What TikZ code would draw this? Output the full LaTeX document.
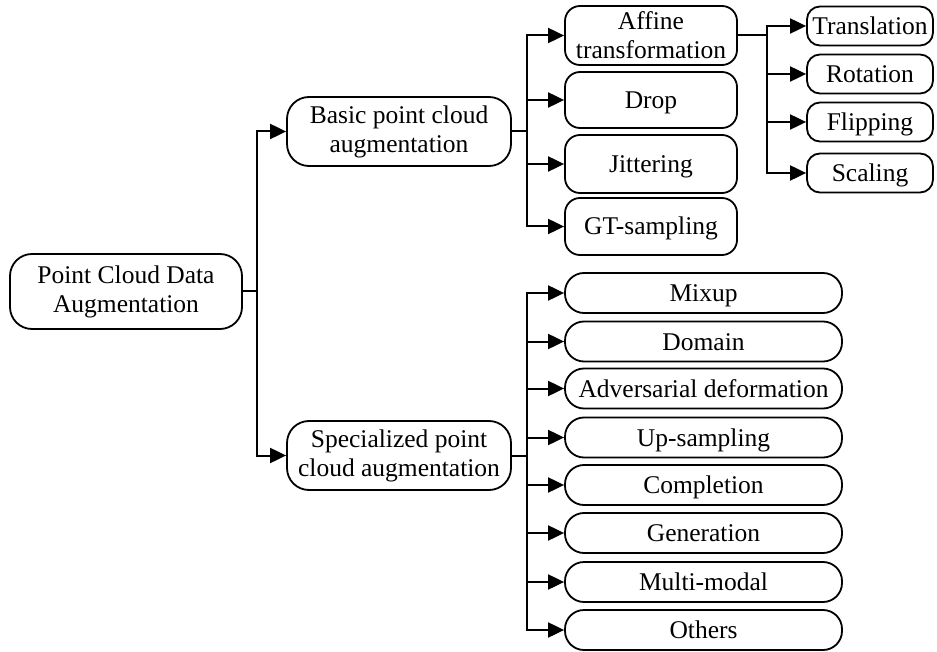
\documentclass[tikz,border=0pt]{standalone}
\usepackage{fontspec}
\setmainfont{Liberation Serif}
\usetikzlibrary{arrows.meta}
\begin{document}
\begin{tikzpicture}[x=1pt,y=-1pt,
  box/.style={draw, line width=1.8pt, inner sep=0pt, align=center,
    font=\fontsize{25.5}{29}\selectfont},
  oneline/.style={text height=17pt, text depth=0pt},
  rootbox/.style={box, rounded corners=22pt, minimum width=232pt, minimum height=75pt},
  midbox/.style={box, rounded corners=22pt, minimum width=224pt, minimum height=69pt},
  leafbox/.style={box, rounded corners=15pt, minimum width=172pt},
  subbox/.style={box, oneline, rounded corners=13pt, minimum width=126pt, minimum height=39pt},
  specbox/.style={box, oneline, rounded corners=19pt, minimum width=277pt, minimum height=40pt},
  conn/.style={line width=2pt},
  arr/.style={conn, -{Triangle[length=16pt,width=15pt]}}
]
\useasboundingbox (0,0) rectangle (937,652);

\node[rootbox] (root) at (126,291.5) {Point Cloud Data\\Augmentation};
\node[midbox] (basic) at (399,131.5) {Basic point cloud\\augmentation};
\node[midbox] (spec) at (399,455.5) {Specialized point\\cloud augmentation};

\node[leafbox, minimum height=59pt] (affine) at (651,35.5) {Affine\\transformation};
\node[leafbox, oneline, minimum height=56pt] (drop) at (651,100) {Drop};
\node[leafbox, oneline, minimum height=58pt] (jit) at (651,164) {Jittering};
\node[leafbox, oneline, minimum height=57pt] (gt) at (651,226.5) {GT-sampling};

\node[subbox] (trans) at (870,26) {Translation};
\node[subbox] (rot) at (870,74) {Rotation};
\node[subbox] (flip) at (870,122) {Flipping};
\node[subbox] (scal) at (870,173) {Scaling};

\node[specbox] (mix) at (703.5,293) {Mixup};
\node[specbox] (dom) at (703.5,341.5) {Domain};
\node[specbox] (adv) at (703.5,388.5) {Adversarial deformation};
\node[specbox] (up) at (703.5,437.5) {Up-sampling};
\node[specbox] (comp) at (703.5,485) {Completion};
\node[specbox] (gen) at (703.5,533) {Generation};
\node[specbox] (mm) at (703.5,582) {Multi-modal};
\node[specbox] (oth) at (703.5,630) {Others};

\coordinate (t1) at (257,291.5);
\draw[conn] (root.east) -- (t1);
\draw[arr] (t1) |- (basic.west);
\draw[arr] (t1) |- (spec.west);

\coordinate (b1) at (527,131.5);
\draw[conn] (basic.east) -- (b1);
\foreach \n in {affine,drop,jit,gt} \draw[arr] (b1) |- (\n.west);

\coordinate (a1) at (767,35.5);
\draw[conn] (affine.east) -- (a1);
\foreach \n in {trans,rot,flip,scal} \draw[arr] (a1) |- (\n.west);

\coordinate (s1) at (527,455.5);
\draw[conn] (spec.east) -- (s1);
\foreach \n in {mix,dom,adv,up,comp,gen,mm,oth} \draw[arr] (s1) |- (\n.west);
\end{tikzpicture}
\end{document}
